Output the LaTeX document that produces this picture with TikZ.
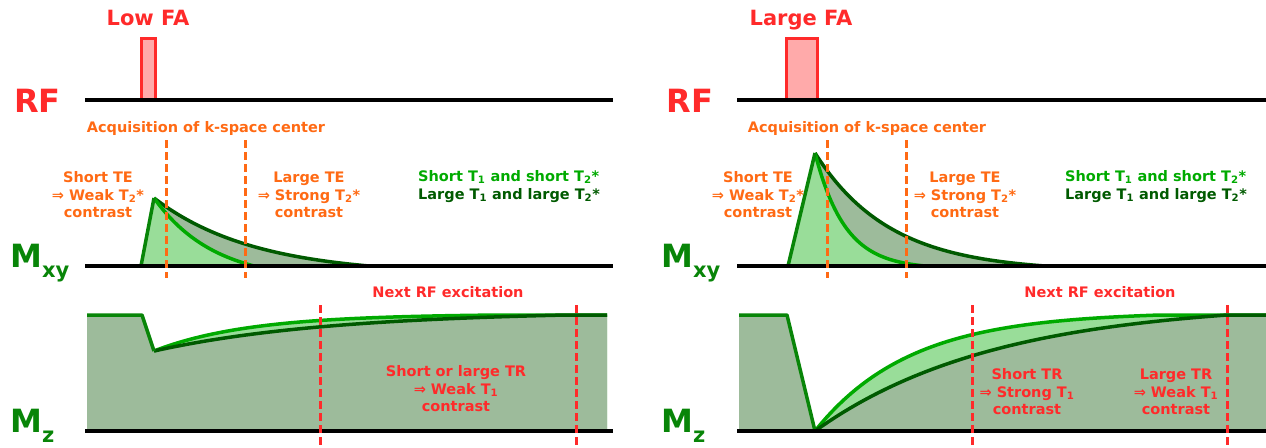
\documentclass[tikz,border=0pt]{standalone}
\usepackage{fontspec}
\setmainfont{DejaVu Sans}
\usepackage{tikz}
\definecolor{Pulse}{HTML}{FF2A2A}
\definecolor{PulseFill}{HTML}{FFAAAA}
\definecolor{Echo}{HTML}{FF6A14}
\definecolor{FastT}{HTML}{00AA00}
\definecolor{SlowT}{HTML}{005A00}
\definecolor{MidT}{HTML}{088508}
\definecolor{Sage}{HTML}{9DBB9B}
\definecolor{Mint}{HTML}{99DD99}
\tikzset{
  declare function={nexp(\x,\y,\z)=(exp(-\x/\y)-exp(-\z/\y))/(1-exp(-\z/\y));},
  axisline/.style={line width=4.5pt,draw=black},
  pulsebox/.style={line width=3pt,draw=Pulse,fill=PulseFill},
  fastcurve/.style={line width=3.5pt,draw=FastT,line join=round},
  slowcurve/.style={line width=3.5pt,draw=SlowT,line join=round},
  edgecurve/.style={line width=3.5pt,draw=MidT,line join=round},
  echoline/.style={line width=3pt,draw=Echo,dash pattern=on 8pt off 4pt},
  trline/.style={line width=3pt,draw=Pulse,dash pattern=on 8pt off 4pt},
  axislabel/.style={inner sep=0pt,font=\fontsize{32}{36}\selectfont\bfseries},
  falabel/.style={inner sep=0pt,text=Pulse,font=\fontsize{21}{24}\selectfont\bfseries},
  note/.style={inner sep=0pt,align=center,font=\fontsize{14.5}{17.5}\selectfont\bfseries},
}

\begin{document}
\begin{tikzpicture}[x=1pt,y=-1pt]
  \useasboundingbox (0,0) rectangle (1266,447);

  \fill[Mint] (87,431) -- (87,315) -- (142,315) -- (154,351) -- plot[domain=0:345,samples=60] ({154+\x},{315+36*nexp(\x,95,345)}) -- (607,315) -- (607,431) -- cycle;
  \fill[Sage] (87,431) -- (87,315) -- (142,315) -- (154,351) -- plot[domain=0:412,samples=60] ({154+\x},{315+36*nexp(\x,180,412)}) -- (607,315) -- (607,431) -- cycle;
  \draw[fastcurve] plot[domain=0:345,samples=60] ({154+\x},{315+36*nexp(\x,95,345)}) -- (607,315);
  \draw[slowcurve] plot[domain=0:412,samples=60] ({154+\x},{315+36*nexp(\x,180,412)}) -- (607,315);
  \draw[edgecurve] (87,315) -- (142,315) -- (154,351);

  \fill[Mint] (739,431) -- (739,315) -- (787,315) -- (815,431) -- plot[domain=0:345,samples=60] ({815+\x},{315+116*nexp(\x,95,345)}) -- (1266,315) -- (1266,431) -- cycle;
  \fill[Sage] (739,431) -- (739,315) -- (787,315) -- (815,431) -- plot[domain=0:412,samples=60] ({815+\x},{315+116*nexp(\x,180,412)}) -- (1266,315) -- (1266,431) -- cycle;
  \draw[fastcurve] plot[domain=0:345,samples=60] ({815+\x},{315+116*nexp(\x,95,345)}) -- (1266,315);
  \draw[slowcurve] plot[domain=0:412,samples=60] ({815+\x},{315+116*nexp(\x,180,412)}) -- (1266,315);
  \draw[edgecurve] (739,315) -- (787,315) -- (815,431);

  \fill[Sage] (141,266) -- (154,198) -- plot[domain=0:215,samples=60] ({154+\x},{266-68*nexp(\x,100,215)}) -- cycle;
  \fill[Mint] (141,266) -- (154,198) -- plot[domain=0:100,samples=50] ({154+\x},{266-68*nexp(\x,60,100)}) -- cycle;
  \draw[slowcurve] plot[domain=0:215,samples=60] ({154+\x},{266-68*nexp(\x,100,215)});
  \draw[fastcurve] plot[domain=0:100,samples=50] ({154+\x},{266-68*nexp(\x,60,100)});
  \draw[edgecurve] (141,266) -- (154,198);

  \fill[Sage] (788,266) -- (815,153) -- plot[domain=0:230,samples=60] ({815+\x},{266-113*nexp(\x,75,230)}) -- cycle;
  \fill[Mint] (788,266) -- (815,153) -- plot[domain=0:110,samples=50] ({815+\x},{266-113*nexp(\x,30,110)}) -- cycle;
  \draw[slowcurve] plot[domain=0:230,samples=60] ({815+\x},{266-113*nexp(\x,75,230)});
  \draw[fastcurve] plot[domain=0:110,samples=50] ({815+\x},{266-113*nexp(\x,30,110)});
  \draw[edgecurve] (788,266) -- (815,153);

  \draw[pulsebox] (141,38) rectangle (155,100);
  \draw[pulsebox] (786,38) rectangle (817,100);

  \foreach \y in {100,266,431} {
    \draw[axisline] (85,\y) -- (613,\y);
    \draw[axisline] (737,\y) -- (1266,\y);
  }
  \foreach \x in {166,245,827,906} \draw[echoline] (\x,140) -- (\x,278);
  \foreach \x in {320,576,972,1227} \draw[trline] (\x,305) -- (\x,447);

  \node[falabel,anchor=base] (lowfa) at (148,25.5) {Low FA};
  \node[falabel,anchor=base] (largefa) at (801,25.5) {Large FA};
  \node[axislabel,text=Pulse,anchor=base] (rfL) at (37.5,112.5) {RF};
  \node[axislabel,text=Pulse,anchor=base] (rfR) at (690,112.5) {RF};
  \node[axislabel,text=MidT,anchor=base west] (mxyL) at (10,267) {M\raisebox{-10pt}{\fontsize{21}{21}\selectfont xy}};
  \node[axislabel,text=MidT,anchor=base west] (mxyR) at (661,267) {M\raisebox{-10pt}{\fontsize{21}{21}\selectfont xy}};
  \node[axislabel,text=MidT,anchor=base west] (mzL) at (10,432) {M\raisebox{-10pt}{\fontsize{21}{21}\selectfont z}};
  \node[axislabel,text=MidT,anchor=base west] (mzR) at (661,432) {M\raisebox{-10pt}{\fontsize{21}{21}\selectfont z}};

  \node[note,text=Echo,anchor=base] (kspaceL) at (206,132) {Acquisition of k-space center};
  \node[note,text=Echo,anchor=base] (kspaceR) at (867,132) {Acquisition of k-space center};
  \node[note,text=Echo] (shortteL) at (98,195) {Short TE\\⇒ Weak T\textsubscript{2}*\\contrast};
  \node[note,text=Echo] (largeteL) at (309,195) {Large TE\\⇒ Strong T\textsubscript{2}*\\contrast};
  \node[note,text=Echo] (shortteR) at (758,195) {Short TE\\⇒ Weak T\textsubscript{2}*\\contrast};
  \node[note,text=Echo] (largeteR) at (965,195) {Large TE\\⇒ Strong T\textsubscript{2}*\\contrast};
  \node[note,text=FastT,anchor=base west] (fastL) at (418,181) {Short T\textsubscript{1} and short T\textsubscript{2}*};
  \node[note,text=SlowT,anchor=base west] (slowL) at (418,199) {Large T\textsubscript{1} and large T\textsubscript{2}*};
  \node[note,text=FastT,anchor=base west] (fastR) at (1065,181) {Short T\textsubscript{1} and short T\textsubscript{2}*};
  \node[note,text=SlowT,anchor=base west] (slowR) at (1065,199) {Large T\textsubscript{1} and large T\textsubscript{2}*};

  \node[note,text=Pulse,anchor=base] (nextL) at (448,297) {Next RF excitation};
  \node[note,text=Pulse,anchor=base] (nextR) at (1100,297) {Next RF excitation};
  \node[note,text=Pulse] (trL) at (456,389) {Short or large TR\\⇒ Weak T\textsubscript{1}\\contrast};
  \node[note,text=Pulse] (shorttrR) at (1027,392) {Short TR\\⇒ Strong T\textsubscript{1}\\contrast};
  \node[note,text=Pulse] (largetrR) at (1176,392) {Large TR\\⇒ Weak T\textsubscript{1}\\contrast};
\end{tikzpicture}
\end{document}
